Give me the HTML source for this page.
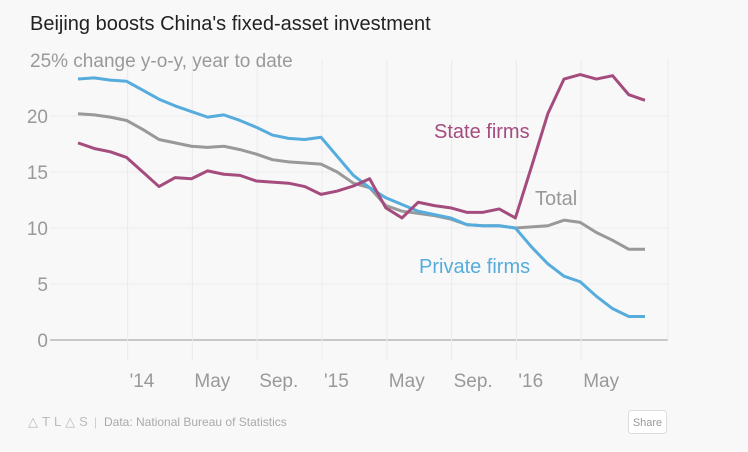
<!DOCTYPE html>
<html><head><meta charset="utf-8"><style>
body{margin:0;background:#f8f8f8;}
svg{display:block;font-family:"Liberation Sans",sans-serif;}
</style></head><body>
<svg id="c" width="748" height="452">
<rect width="748" height="452" fill="#f8f8f8"/>
<text x="30" y="30" font-size="20" fill="#222">Beijing boosts China's fixed-asset investment</text>
<g id="grid"></g>
<g id="lines"></g>
<text x="30" y="67" font-size="19" fill="#999">25% change y-o-y, year to date</text>
<text x="434" y="138" font-size="20" fill="#a44c7e">State firms</text>
<text x="535" y="205" font-size="20" fill="#999">Total</text>
<text x="419" y="273" font-size="20" fill="#55acdd">Private firms</text>
<text x="28" y="426" font-size="13" fill="#bbb" letter-spacing="4">△TL△S</text>
<text x="94" y="426" font-size="12" fill="#ccc">|</text>
<text x="104" y="426" font-size="12" fill="#aaa">Data: National Bureau of Statistics</text>
<g>
<rect x="628.5" y="410.5" width="38" height="23" rx="3" fill="#fff" stroke="#ddd"/>
<text x="647.5" y="426" font-size="11" fill="#999" text-anchor="middle">Share</text>
</g>
</svg>
<script>
const yTicks=[0,5,10,15,20];
const xTickLabels=["'14","May","Sep.","'15","May","Sep.","'16","May"];
const xTickIdx=[3,7,11,15,19,23,27,31];
const privateFirms=[23.3,23.4,23.2,23.1,22.3,21.5,20.9,20.4,19.9,20.1,19.6,19.0,18.3,18.0,17.9,18.1,16.4,14.7,13.6,12.7,12.1,11.5,11.2,10.9,10.3,10.2,10.2,10.0,8.3,6.8,5.7,5.2,3.9,2.8,2.1,2.1];
const total=[20.2,20.1,19.9,19.6,18.8,17.9,17.6,17.3,17.2,17.3,17.0,16.6,16.1,15.9,15.8,15.7,15.0,14.0,13.6,12.0,11.5,11.3,11.1,10.8,10.3,10.2,10.2,10.0,10.1,10.2,10.7,10.5,9.6,8.9,8.1,8.1];
const stateFirms=[17.6,17.1,16.8,16.3,15.0,13.7,14.5,14.4,15.1,14.8,14.7,14.2,14.1,14.0,13.7,13.0,13.3,13.75,14.4,11.8,10.9,12.3,12.0,11.8,11.4,11.4,11.7,10.9,15.5,20.2,23.3,23.7,23.3,23.6,21.9,21.4];
const NS="http://www.w3.org/2000/svg";
const x=i=>78+i*16.2;
const y=v=>340-v*11.2;
const grid=document.getElementById('grid'),lines=document.getElementById('lines');
function mk(t,a,p){const e=document.createElementNS(NS,t);for(const k in a)e.setAttribute(k,a[k]);p.appendChild(e);return e;}
yTicks.forEach(v=>{
  const l=mk('line',{x1:50,x2:668,y1:y(v),y2:y(v),stroke:v===0?'#999':'#ebebeb','stroke-width':1},grid);
  
  
  const t=mk('text',{x:48,y:y(v)+7,'font-size':19,fill:'#999','text-anchor':'end'},grid);
  t.textContent=v;
  
  
});
mk('line',{x1:668,x2:668,y1:60,y2:340,stroke:'#ebebeb'},grid);
xTickIdx.forEach((i,k)=>{
  const l=mk('line',{x1:x(i)+1,x2:x(i)+1,y1:60,y2:360,stroke:'#ebebeb'},grid);
  
  
  const t=mk('text',{x:x(i)+3,y:387,'font-size':19,fill:'#999'},grid);
  t.textContent=xTickLabels[k];
  
  
});
[[total,'#999','total-line'],[privateFirms,'#55acdd','private-firms-line'],[stateFirms,'#a44c7e','state-firms-line']].forEach(([d,c,n])=>{
  const p=mk('polyline',{points:d.map((v,i)=>x(i)+','+y(v)).join(' '),fill:'none',stroke:c,'stroke-width':3,'stroke-linejoin':'round'},lines);
  
  
});
</script>
</body></html>
